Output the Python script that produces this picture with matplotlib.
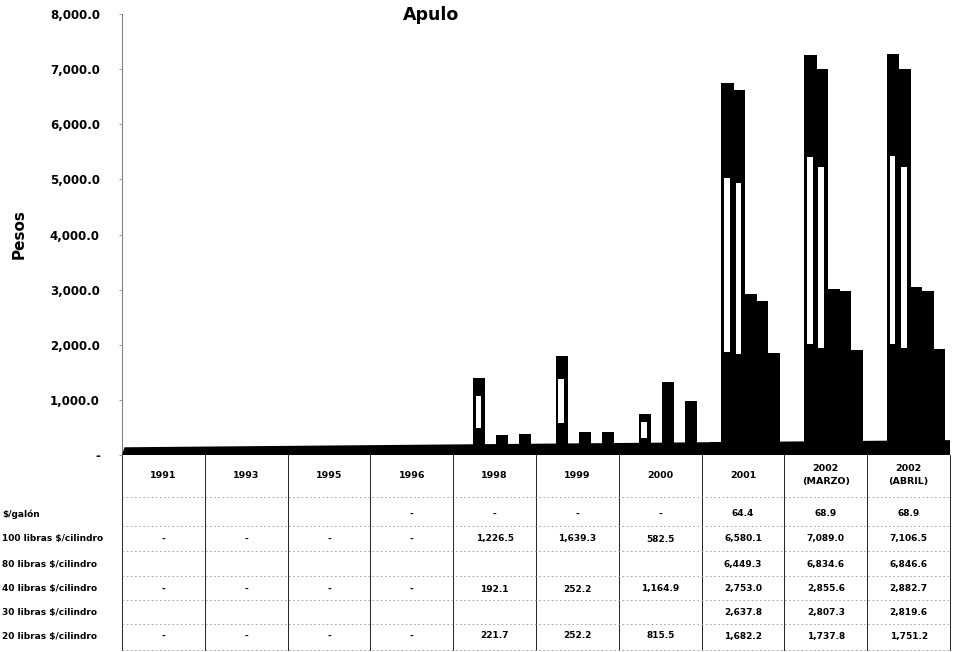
import matplotlib

matplotlib.use("Agg")
import matplotlib.pyplot as plt
import matplotlib.transforms as mtransforms
import numpy as np

# categories (table columns)
years = ["1991", "1993", "1995", "1996", "1998", "1999", "2000", "2001",
         "2002\n(MARZO)", "2002\n(ABRIL)"]

row_labels = [
    "$/galón",
    "100 libras $/cilindro",
    "80 libras $/cilindro",
    "40 libras $/cilindro",
    "30 libras $/cilindro",
    "20 libras $/cilindro",
]

# None = empty cell, 0.0 = "-"
galon = [None, None, None, 0.0, 0.0, 0.0, 0.0, 64.4, 68.9, 68.9]
lb100 = [0.0, 0.0, 0.0, 0.0, 1226.5, 1639.3, 582.5, 6580.1, 7089.0, 7106.5]
lb80 = [None, None, None, None, None, None, None, 6449.3, 6834.6, 6846.6]
lb40 = [0.0, 0.0, 0.0, 0.0, 192.1, 252.2, 1164.9, 2753.0, 2855.6, 2882.7]
lb30 = [None, None, None, None, None, None, None, 2637.8, 2807.3, 2819.6]
lb20 = [0.0, 0.0, 0.0, 0.0, 221.7, 252.2, 815.5, 1682.2, 1737.8, 1751.2]

series = [galon, lb100, lb80, lb40, lb30, lb20]
y_ticks = [0, 1000, 2000, 3000, 4000, 5000, 6000, 7000, 8000]

W, H = 954, 652
fig = plt.figure(figsize=(W / 100, H / 100), dpi=100)
plt.rcParams["font.family"] = "DejaVu Sans"

ax = fig.add_axes([122 / W, 1 - 455 / H, (950 - 122) / W, (455 - 14) / H])
ax.set_xlim(-0.5, len(years) - 0.5)
ax.set_ylim(0, 8000)

# bars sit on the back wall of the 3D chart, a few pixels above the front floor
bar_tr = mtransforms.offset_copy(ax.transData, fig=fig, x=0, y=9, units="dots")

x = np.arange(len(years))
step = 0.139
width = 0.15
first = -0.325
for k, vals in enumerate(series):
    v = np.array([np.nan if s is None else s for s in vals], dtype=float)
    xs = x + first + k * step
    ax.bar(xs, np.nan_to_num(v), width=width, color="black", linewidth=0,
           transform=bar_tr, zorder=3)
    if k in (1, 2):
        vv = np.nan_to_num(v)
        ax.bar(xs - 0.008, vv * 0.48, bottom=vv * 0.26, width=0.07,
               color="white", linewidth=0, transform=bar_tr, zorder=4)

# floor of the 3D chart
ax.fill([-0.5, 9.5, 9.5, -0.47], [0, 0, 270, 140], color="black",
        linewidth=0, zorder=5, clip_on=False)

ax.set_yticks(y_ticks)
ax.set_yticklabels(["-" if t == 0 else f"{t:,.1f}" for t in y_ticks],
                   fontsize=8.5, fontweight="bold")
ax.tick_params(axis="y", length=2, width=0.6, pad=14, color="#888888")
ax.set_xticks([])
for side in ("top", "right", "bottom"):
    ax.spines[side].set_visible(False)
ax.spines["left"].set_color("#777777")
ax.spines["left"].set_linewidth(0.7)

ax.set_ylabel("Pesos", fontsize=11, fontweight="bold")
ax.yaxis.set_label_coords(-(122 - 27) / 828, 0.5)

fig.text(431 / W, 1 - 15 / H, "Apulo", ha="center", va="center",
         fontsize=12.5, fontweight="bold")

# data table below the chart
tt = mtransforms.blended_transform_factory(ax.transData, fig.transFigure)


def fy(py):
    return 1 - py / H


for b in np.arange(len(years) + 1) - 0.5:
    ax.plot([b, b], [fy(455), fy(650)], color="black", linewidth=0.6,
            transform=tt, clip_on=False)
for py in [497, 526, 551, 576, 600, 624, 650]:
    ax.plot([-0.5, 9.5], [fy(py), fy(py)], color="#9a9a9a", linewidth=0.6,
            linestyle=(0, (2, 3)), transform=tt, clip_on=False)

for i, yr in enumerate(years):
    ax.text(i, fy(475), yr, ha="center", va="center", fontsize=6.8,
            fontweight="bold", transform=tt, linespacing=1.5)

row_y = [514, 539, 564, 589, 612, 636]
for r, (lab, vals) in enumerate(zip(row_labels, series)):
    fig.text(2 / W, fy(row_y[r]), lab, ha="left", va="center",
             fontsize=6.5, fontweight="bold")
    for i, val in enumerate(vals):
        if val is None:
            continue
        txt = "-" if val == 0 else f"{val:,.1f}"
        ax.text(i, fy(row_y[r]), txt, ha="center", va="center", fontsize=6.5,
                fontweight="bold", transform=tt)

fig.savefig("out.png", dpi=100)
